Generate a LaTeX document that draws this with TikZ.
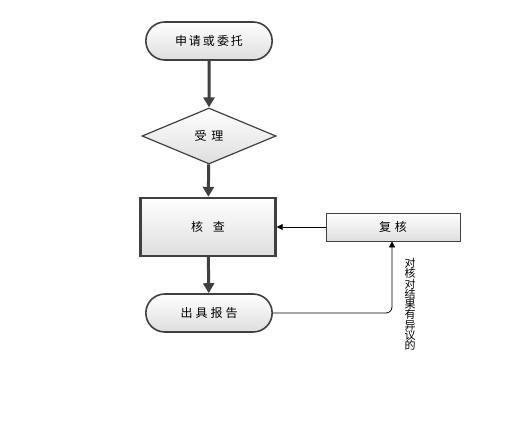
\documentclass[tikz,border=0pt]{standalone}
\usepackage{fontspec}
\setmainfont{Noto Sans CJK SC}
\usepackage{tikz}
\usetikzlibrary{shapes.geometric,shapes.misc,arrows.meta,positioning}
\definecolor{edgegray}{RGB}{64,64,64}
\definecolor{fillgray}{RGB}{222,222,222}
\newcommand{\cjkgap}[1]{\hspace{#1pt}}
\setlength{\parindent}{0pt}

\begin{document}
\begin{tikzpicture}[x=1pt, y=-1pt,
    font=\fontsize{12}{14}\selectfont,
    term/.style={rounded rectangle, draw=edgegray, line width=1.6pt,
                 top color=white, bottom color=fillgray,
                 minimum width=133pt, minimum height=38pt},
    decide/.style={diamond, draw=edgegray, line width=1.2pt, inner sep=0pt,
                   top color=white, bottom color=fillgray, shape aspect=2.4,
                   minimum width=134pt, minimum height=56pt},
    procbox/.style={rectangle, draw=edgegray, line width=2.4pt,
                    top color=white, bottom color=fillgray,
                    minimum width=135pt, minimum height=58pt},
    subbox/.style={rectangle, draw=edgegray, line width=0.8pt,
                   top color=white, bottom color=fillgray,
                   minimum width=134pt, minimum height=28pt},
    thickarr/.style={-{Triangle[length=10pt,width=11pt]}, edgegray, line width=3pt},
    thinarr/.style={-{Triangle[length=6pt,width=6pt]}, black, line width=0.8pt}]

    \useasboundingbox (0,0) rectangle (517,447);

    % Main flow
    \node[term] (apply) at (209,41) {申\cjkgap2请\cjkgap2或\cjkgap2委\cjkgap2托};
    \node[decide] (accept) at (209,136) {受\cjkgap5理};
    \node[procbox] (check) at (208,227) {核\cjkgap{10}查};
    \node[term] (report) at (209,313) {出\cjkgap3具\cjkgap3报\cjkgap3告};
    % Review
    \node[subbox] (review) at (393,227) {复\cjkgap4核};
    \coordinate (bend) at (392,313);

    \draw[thickarr] (apply) -- (accept);
    \draw[thickarr] (accept) -- (check);
    \draw[thickarr] (check) -- (report);

    \draw[thinarr] (review) -- (check);
    \draw[thinarr, rounded corners=6pt] (report.east) -- (bend) -- (review.south -| bend);

    \node[font=\fontsize{11}{10.3}\selectfont, align=center,
          inner sep=0pt, anchor=north]
        (note) at (410,258) {对\\核\\对\\结\\果\\有\\异\\议\\的};
\end{tikzpicture}
\end{document}
